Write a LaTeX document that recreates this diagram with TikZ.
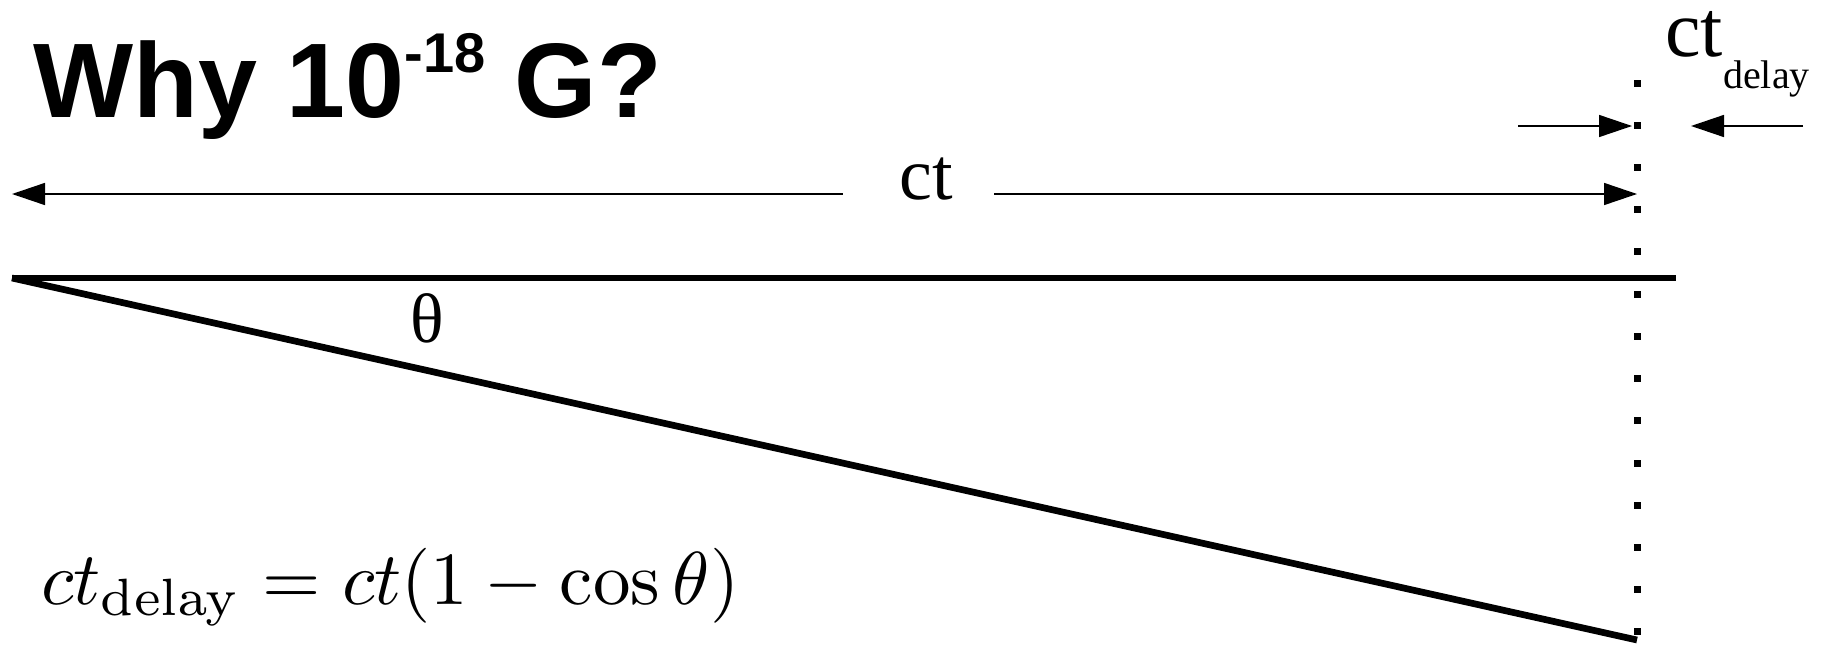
\documentclass[tikz,border=0pt]{standalone}
\usepackage[no-math]{fontspec}
\usepackage{graphicx}
\setmainfont{Liberation Serif}
\newfontfamily\titlefont{Liberation Sans}
\usetikzlibrary{arrows.meta}

\begin{document}
	\begin{tikzpicture}[
		x=0.5pt, y=-0.5pt,
		heavy/.style={line width=3.35pt},
		measure/.style={line width=0.75pt, -{Triangle[length=16.5pt, width=11pt]}},
		lbl/.style={inner sep=0pt, font=\fontsize{37}{40}\selectfont}
		]
		
		\useasboundingbox (0,0) rectangle (1830,648);
		
		% end points
		\coordinate (apex) at (12,278);
		\coordinate (far) at (1676,278);
		\coordinate (bottom) at (1637,640);
		\coordinate (ctL) at (12,194);
		\coordinate (ctR) at (1637,194);
		\coordinate (inL) at (1518,126);
		\coordinate (inR) at (1632,126);
		\coordinate (outR) at (1803,126);
		\coordinate (outL) at (1691,126);
		
		% texts
		\node[anchor=base west, inner sep=0pt] (title) at (33,117)
		{\titlefont\bfseries\fontsize{53}{60}\selectfont Why 10\raisebox{22.5pt}{\fontsize{28}{30}\selectfont -18} G?};
		\node[lbl, anchor=base, minimum width=75.5pt] (ct) at (918.5,199) {\hspace{7.5pt}ct};
		\node[lbl, anchor=base west] (ctdelay) at (1665,56)
		{\fontsize{40}{40}\selectfont ct\fontsize{20}{24}\selectfont\raisebox{-16pt}{delay}};
		\node[lbl, anchor=base] (theta) at (427,342) {\fontsize{35}{40}\selectfont θ};
		\node[anchor=base west, inner sep=0pt] (eq) at (41,604)
		{\scalebox{3.75}{$ct_{\mathrm{delay}} = ct(1-\cos\theta)$}};
		
		% triangle
		\draw[heavy] (apex) -- (far);
		\draw[heavy] (apex) -- (bottom);
		
		% dotted vertical
		\foreach \i in {0,...,13}
		\fill (1633.5,{79.5+42.23*\i}) rectangle +(7,7);
		
		% measures
		\draw[measure] (ctL -| ct.west) -- (ctL);
		\draw[measure] (ctR -| ct.east) -- (ctR);
		\draw[measure] (inL) -- (inR);
		\draw[measure] (outR) -- (outL);
		
	\end{tikzpicture}
\end{document}
